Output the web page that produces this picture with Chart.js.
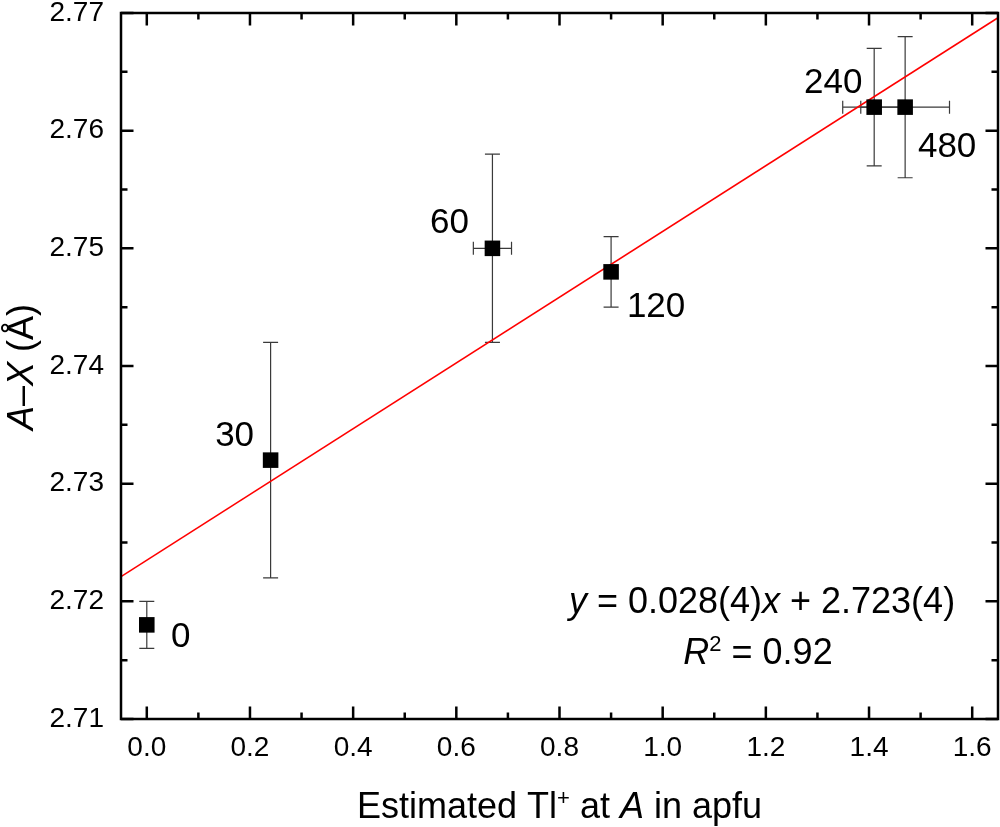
<!DOCTYPE html>
<html><head><meta charset="utf-8">
<script src="https://cdn.jsdelivr.net/npm/chart.js@4.4.1/dist/chart.umd.min.js"></script>
<style>html,body{margin:0;padding:0;background:#fff;overflow:hidden}#wrap{width:1000px;height:827px}</style>
</head><body><div id="wrap"><canvas id="c" width="1000" height="827"></canvas></div>
<script>
// ---- data ----
const xValues = [0.00, 0.24, 0.67, 0.90, 1.41, 1.47];
const yValues = [2.718, 2.732, 2.750, 2.748, 2.762, 2.762];
const xErrors = [0, 0, 0.037, 0, 0.061, 0.086];
const yErrors = [0.002, 0.010, 0.008, 0.003, 0.005, 0.006];
const pointLabels = ['0', '30', '60', '120', '240', '480'];
const fitX = [-0.05, 1.65];
const fitY = [2.7221, 2.7696];
const xTicks = [0.0, 0.2, 0.4, 0.6, 0.8, 1.0, 1.2, 1.4, 1.6];
const yTicks = [2.71, 2.72, 2.73, 2.74, 2.75, 2.76, 2.77];
const xRange = [-0.05, 1.65];
const yRange = [2.71, 2.77];

// ---- styling (label offsets in pixels relative to each point) ----
const labelOffsets = [[34, 10], [-36, -27], [-43, -28], [45, 33], [-41, -27], [42, 37]];
const FONT = '"Liberation Sans", Arial, Helvetica, sans-serif';

function drawRich(ctx, runs, size, x, y) {
  let w = 0; const m = [];
  for (const r of runs) {
    const s = r.sup ? Math.round(size * 0.62) : size;
    ctx.font = (r.i ? 'italic ' : '') + s + 'px ' + FONT;
    const ww = ctx.measureText(r.t).width;
    m.push({ r, s, ww }); w += ww;
  }
  let cx = x - w / 2;
  ctx.textAlign = 'left'; ctx.textBaseline = 'alphabetic';
  for (const it of m) {
    ctx.font = (it.r.i ? 'italic ' : '') + it.s + 'px ' + FONT;
    ctx.fillText(it.r.t, cx, y - (it.r.sup ? size * 0.36 : 0));
    cx += it.ww;
  }
}

const errorBars = {
  id: 'errorBars',
  beforeDatasetsDraw(chart) {
    const ctx = chart.ctx, xs = chart.scales.x, ys = chart.scales.y;
    ctx.save();
    ctx.strokeStyle = '#3a3a3a'; ctx.lineWidth = 1.2;
    for (let i = 0; i < xValues.length; i++) {
      const px = xs.getPixelForValue(xValues[i]), py = ys.getPixelForValue(yValues[i]);
      if (yErrors[i]) {
        const t = ys.getPixelForValue(yValues[i] + yErrors[i]), b = ys.getPixelForValue(yValues[i] - yErrors[i]);
        ctx.beginPath();
        ctx.moveTo(px, t); ctx.lineTo(px, b);
        ctx.moveTo(px - 7.5, t); ctx.lineTo(px + 7.5, t);
        ctx.moveTo(px - 7.5, b); ctx.lineTo(px + 7.5, b);
        ctx.stroke();
      }
      if (xErrors[i]) {
        const l = xs.getPixelForValue(xValues[i] - xErrors[i]), r = xs.getPixelForValue(xValues[i] + xErrors[i]);
        ctx.beginPath();
        ctx.moveTo(l, py); ctx.lineTo(r, py);
        ctx.moveTo(l, py - 6.5); ctx.lineTo(l, py + 6.5);
        ctx.moveTo(r, py - 6.5); ctx.lineTo(r, py + 6.5);
        ctx.stroke();
      }
    }
    ctx.restore();
  },
  afterDatasetsDraw(chart) {
    const ctx = chart.ctx, xs = chart.scales.x, ys = chart.scales.y, a = chart.chartArea;
    ctx.save();
    // frame and inward ticks
    ctx.strokeStyle = '#000'; ctx.lineWidth = 2.5;
    ctx.strokeRect(a.left, a.top, a.right - a.left, a.bottom - a.top);
    const maj = 12.5, min = 6.5;
    ctx.beginPath();
    xTicks.forEach((v, k) => {
      const p = xs.getPixelForValue(v);
      ctx.moveTo(p, a.bottom); ctx.lineTo(p, a.bottom - maj);
      ctx.moveTo(p, a.top); ctx.lineTo(p, a.top + maj);
      if (k < xTicks.length - 1) {
        const q = xs.getPixelForValue((v + xTicks[k + 1]) / 2);
        ctx.moveTo(q, a.bottom); ctx.lineTo(q, a.bottom - min);
        ctx.moveTo(q, a.top); ctx.lineTo(q, a.top + min);
      }
    });
    yTicks.forEach((v, k) => {
      const p = ys.getPixelForValue(v);
      ctx.moveTo(a.left, p); ctx.lineTo(a.left + maj, p);
      ctx.moveTo(a.right, p); ctx.lineTo(a.right - maj, p);
      if (k < yTicks.length - 1) {
        const q = ys.getPixelForValue((v + yTicks[k + 1]) / 2);
        ctx.moveTo(a.left, q); ctx.lineTo(a.left + min, q);
        ctx.moveTo(a.right, q); ctx.lineTo(a.right - min, q);
      }
    });
    ctx.stroke();

    // point labels
    ctx.fillStyle = '#000';
    ctx.textAlign = 'center'; ctx.textBaseline = 'alphabetic';
    ctx.font = '35px ' + FONT;
    pointLabels.forEach((t, i) => {
      const px = xs.getPixelForValue(xValues[i]) + labelOffsets[i][0];
      const py = ys.getPixelForValue(yValues[i]) + labelOffsets[i][1];
      ctx.fillText(t, px, py + 35 * 0.358);
    });

    // equation
    drawRich(ctx, [{ t: 'y', i: true }, { t: ' = 0.028(4)' }, { t: 'x', i: true }, { t: ' + 2.723(4)' }], 36, 762, 613);
    drawRich(ctx, [{ t: 'R', i: true }, { t: '2', sup: true }, { t: ' = 0.92' }], 36, 758, 664);

    // axis titles
    drawRich(ctx, [{ t: 'Estimated Tl' }, { t: '+', sup: true }, { t: ' at ' }, { t: 'A', i: true }, { t: ' in apfu' }], 36, (a.left + a.right) / 2, 818);
    ctx.translate(33, 367);
    ctx.rotate(-Math.PI / 2);
    drawRich(ctx, [{ t: 'A', i: true }, { t: '\u2013' }, { t: 'X', i: true }, { t: ' (\u00C5)' }], 36, 0, 0);
    ctx.restore();
  }
};

new Chart(document.getElementById('c'), {
  type: 'scatter',
  data: {
    datasets: [
      {
        data: xValues.map((x, i) => ({ x, y: yValues[i] })),
        pointStyle: 'rect', pointRadius: 11, pointHoverRadius: 11,
        backgroundColor: '#000', borderColor: '#000', borderWidth: 0
      },
      {
        type: 'line',
        data: fitX.map((x, i) => ({ x, y: fitY[i] })),
        borderColor: '#ff0000', borderWidth: 1.6, pointRadius: 0, fill: false, showLine: true
      }
    ]
  },
  options: {
    responsive: false, animation: false, devicePixelRatio: 1,
    layout: { autoPadding: false, padding: { left: 0, right: 2, top: 13, bottom: 0 } },
    plugins: { legend: { display: false }, tooltip: { enabled: false } },
    scales: {
      x: {
        type: 'linear', min: xRange[0], max: xRange[1],
        afterBuildTicks: s => { s.ticks = xTicks.map(v => ({ value: v })); },
        afterFit: s => { s.height = 108; s.paddingLeft = 0; s.paddingRight = 0; },
        grid: { display: false, drawTicks: false },
        border: { display: false },
        ticks: { padding: 12, color: '#000', font: { family: FONT, size: 28 }, callback: v => Number(v).toFixed(1), maxRotation: 0, autoSkip: false }
      },
      y: {
        type: 'linear', min: yRange[0], max: yRange[1],
        afterBuildTicks: s => { s.ticks = yTicks.map(v => ({ value: v })); },
        afterFit: s => { s.width = 121; s.paddingTop = 0; s.paddingBottom = 0; },
        grid: { display: false, drawTicks: false },
        border: { display: false },
        ticks: { padding: 17, color: '#000', font: { family: FONT, size: 28 }, callback: v => Number(v).toFixed(2), autoSkip: false }
      }
    }
  },
  plugins: [errorBars]
});
</script>
</body></html>
